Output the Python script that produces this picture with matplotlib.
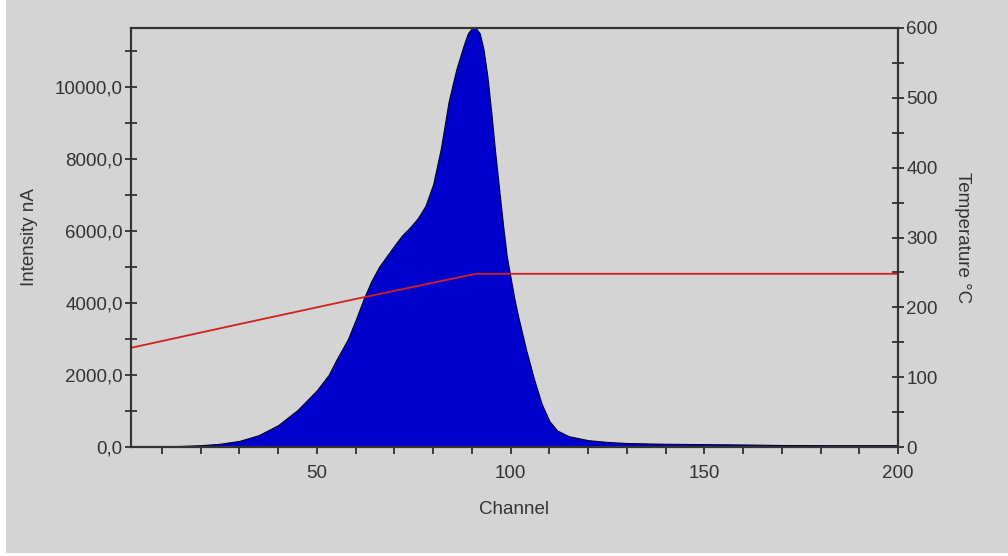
import numpy as np
import matplotlib.pyplot as plt
from matplotlib.ticker import MultipleLocator, FuncFormatter
from matplotlib.patches import Rectangle

# intensity curve (channel -> nA)
channel = [2, 10, 15, 20, 25, 30, 35, 40, 45, 50, 53, 55, 58, 60, 62, 64, 66, 68, 70, 72,
           74, 76, 78, 80, 82, 84, 86, 88, 89, 90, 91, 92, 93, 94, 95, 96, 97, 98, 99,
           100, 101, 102, 104, 106, 108, 110, 112, 115, 120, 125, 130, 140, 150, 160, 170, 185, 200]
intensity = [10, 20, 30, 50, 90, 170, 330, 610, 1030, 1580, 2000, 2420, 3000, 3530, 4100,
             4600, 5000, 5300, 5600, 5880, 6100, 6350, 6700, 7300, 8300, 9600, 10500, 11200,
             11500, 11630, 11640, 11500, 11050, 10300, 9300, 8200, 7200, 6200, 5300,
             4700, 4100, 3600, 2700, 1900, 1200, 720, 460, 300, 190, 140, 110, 90, 80, 70, 55, 50, 50]

# temperature ramp (channel -> °C)
temp_channel = [2, 30, 60, 91, 200]
temperature = [142, 176, 212, 248, 248]

bg = '#d4d4d4'
plt.rcParams['font.family'] = ['Liberation Sans', 'DejaVu Sans']

fig = plt.figure(figsize=(10.08, 5.56), dpi=100, facecolor='white')
fig.patches.append(Rectangle((0.006, 0.006), 0.994, 0.994, transform=fig.transFigure,
                             facecolor=bg, edgecolor='none', zorder=-10))

ax = fig.add_axes([131/1008, 1 - 447/556, (898-131)/1008, (447-28)/556])
ax.set_facecolor(bg)
ax.fill_between(channel, intensity, 0, color='#0000cc', edgecolor='#000033', linewidth=0.8)
ax.set_xlim(2, 200)
ax.set_ylim(0, 11640)

ax2 = ax.twinx()
ax2.plot(temp_channel, temperature, color='#d02020', linewidth=1.3)
ax2.set_ylim(0, 600)

ax.xaxis.set_major_locator(MultipleLocator(50))
ax.xaxis.set_minor_locator(MultipleLocator(10))
ax.yaxis.set_major_locator(MultipleLocator(2000))
ax.yaxis.set_minor_locator(MultipleLocator(1000))
ax.yaxis.set_major_formatter(FuncFormatter(lambda v, p: f'{v:.1f}'.replace('.', ',')))
ax2.yaxis.set_major_locator(MultipleLocator(100))
ax2.yaxis.set_minor_locator(MultipleLocator(50))

for a in (ax, ax2):
    for s in a.spines.values():
        s.set_color('#333333')
        s.set_linewidth(1.5)
    a.tick_params(which='both', direction='inout', length=8, width=1.2, color='#222222',
                  labelsize=13.5, labelcolor='#333333', pad=2)
ax.tick_params(axis='x', which='both', direction='out', length=5, pad=8)
ax.spines['bottom'].set_color('#000000')

ax.set_xlabel('Channel', fontsize=13.5, color='#333333', labelpad=14)
ax.set_ylabel('Intensity nA', fontsize=13.5, color='#333333', labelpad=12)
ax2.set_ylabel('Temperature °C', fontsize=13.5, color='#333333', rotation=270, labelpad=24)

fig.savefig('out.png', dpi=100, facecolor='white')
